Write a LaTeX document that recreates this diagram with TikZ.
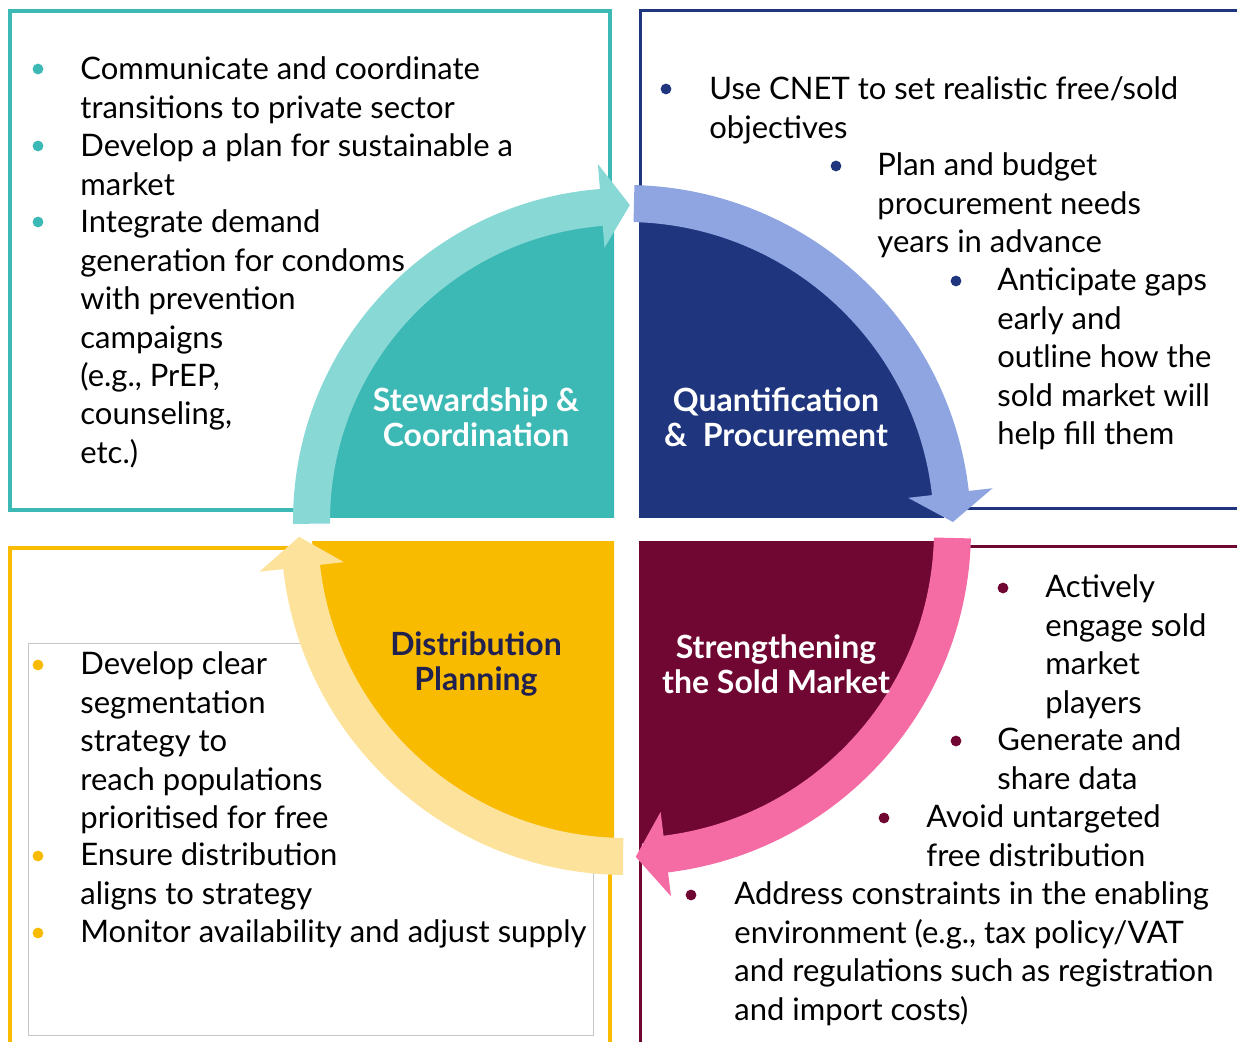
\documentclass[tikz,border=0pt]{standalone}
\usepackage{fontspec}
\setmainfont{Lato}
\usetikzlibrary{calc}

\definecolor{tealdark}{HTML}{3CB8B5}
\definecolor{teallight}{HTML}{88D8D6}
\definecolor{navydark}{HTML}{1F367F}
\definecolor{navylight}{HTML}{8EA5E2}
\definecolor{maroondark}{HTML}{700632}
\definecolor{pinklight}{HTML}{F56CA5}
\definecolor{yellowdark}{HTML}{F9BB00}
\definecolor{yellowlight}{HTML}{FDE29B}
\definecolor{inkdark}{HTML}{21214F}

% curved band with a straight head: centre, start angle, head base angle, tip angle, colour
\newcommand\cyclearrow[5]{%
  \fill[#5] ($(#1)+(#2:\rout)$) arc[start angle=#2,end angle=#3,radius=\rout]
    -- ($(#1)+(#3:\wout)$) -- ($(#1)+(#4:\rmid)$) -- ($(#1)+(#3:\win)$)
    -- ($(#1)+(#3:\rin)$) arc[start angle=#3,end angle=#2,radius=\rin] -- cycle;}

\begin{document}
\begin{tikzpicture}[x=0.5pt,y=0.5pt,
 box/.style={draw=#1,line width=1.5pt},
 dot/.style={circle,fill=#1,inner sep=0pt,minimum size=5.4pt},
 txt/.style={anchor=base west,align=left,inner sep=0pt,text=black,font=\fontsize{15.5}{19.2}\selectfont},
 title/.style={align=center,inner sep=0pt,text=white,font=\bfseries\fontsize{16}{17.5}\selectfont}]
\useasboundingbox (0,0) rectangle (1237,1042);
\clip (0,0) rectangle (1237,1042);

% frames around the four text areas
\draw[box=tealdark,line width=2pt] (10,532) rectangle (610,1031);
\draw[box=navydark] (640,533) rectangle (1260,1031);
\draw[box=yellowdark,line width=2pt] (10,-20) rectangle (610,494);
\draw[box=maroondark] (640,-20) rectangle (1260,495);
\draw[gray!45,line width=0.5pt] (28,6) rectangle (593,398);

% quarter discs
\coordinate (C) at (626,512);
\coordinate (CT) at (626,521);
\begin{scope}\clip (0,524) rectangle (614,1042); \fill[tealdark] (CT) circle[radius=300]; \end{scope}
\begin{scope}\clip (639,524) rectangle (1237,1042); \fill[navydark] (C) circle[radius=318]; \end{scope}
\begin{scope}\clip (0,0) rectangle (614,500); \fill[yellowdark] (C) circle[radius=314]; \end{scope}
\begin{scope}\clip (639,0) rectangle (1237,500); \fill[maroondark] (C) circle[radius=314]; \end{scope}

% cycle arrows
{\def\rin{296}\def\rout{333}\def\rmid{316}\def\win{274}\def\wout{358}
 \cyclearrow{CT}{180.5}{94.5}{89.3}{teallight}}
\def\rin{308}\def\rout{345}\def\rmid{327}\def\win{284}\def\wout{369}
\cyclearrow{C}{88.6}{6.5}{1.4}{navylight}
\cyclearrow{C}{-1.4}{-83}{-88.3}{pinklight}
\cyclearrow{C}{-90.5}{-173.5}{-178.8}{yellowlight}

% quadrant titles
\node[title] (stew) at (476,624.5) {Stewardship \&\\Coordination};
\node[title] (quant) at (776,624.5) {Quantification\\\& \ Procurement};
\node[title,text=inkdark] (dist) at (476,377.5) {Distribution\\Planning};
\node[title] (sold) at (776,377.5) {Strengthening\\the Sold Market};

% stewardship points (text nodes sit on their last baseline)
\node[dot=tealdark] (sdot1) at (38,973) {};
\node[txt] (s1) at (80,923.6) {Communicate and coordinate\\transitions to private sector};
\node[dot=tealdark] (sdot2) at (38,896) {};
\node[txt] (s2) at (80,846.6) {Develop a plan for sustainable a\\market};
\node[dot=tealdark] (sdot3) at (38,820) {};
\node[txt] (s3) at (80,578.6) {Integrate demand\\generation for condoms\\with prevention\\campaigns\\(e.g., PrEP,\\counseling,\\etc.)};

% quantification points
\node[dot=navydark] (qdot1) at (666,953) {};
\node[txt] (q1) at (709,903.6) {Use CNET to set realistic free/sold\\objectives};
\node[dot=navydark] (qdot2) at (836,876) {};
\node[txt] (q2) at (877,789.2) {Plan and budget\\procurement needs\\years in advance};
\node[dot=navydark] (qdot3) at (956,761) {};
\node[txt] (q3) at (997,597.4) {Anticipate gaps\\early and\\outline how the\\sold market will\\help fill them};

% sold market points
\node[dot=maroondark] (mdot1) at (1003,454) {};
\node[txt] (m1) at (1045,328.8) {Actively\\engage sold\\market\\players};
\node[dot=maroondark] (mdot2) at (956,301) {};
\node[txt] (m2) at (997,252.6) {Generate and\\share data};
\node[dot=maroondark] (mdot3) at (884,224) {};
\node[txt] (m3) at (926,175.6) {Avoid untargeted\\free distribution};
\node[dot=maroondark] (mdot4) at (691,147) {};
\node[txt] (m4) at (734,21.8) {Address constraints in the enabling\\environment (e.g., tax policy/VAT\\and regulations such as registration\\and import costs)};

% distribution points
\node[dot=yellowdark] (ddot1) at (38,377) {};
\node[txt] (d1) at (80,213.4) {Develop clear\\segmentation\\strategy to\\reach populations\\prioritised for free};
\node[dot=yellowdark] (ddot2) at (38,186) {};
\node[txt] (d2) at (80,137.6) {Ensure distribution\\aligns to strategy};
\node[dot=yellowdark] (ddot3) at (38,109) {};
\node[txt] (d3) at (80,99) {Monitor availability and adjust supply};
\end{tikzpicture}
\end{document}
